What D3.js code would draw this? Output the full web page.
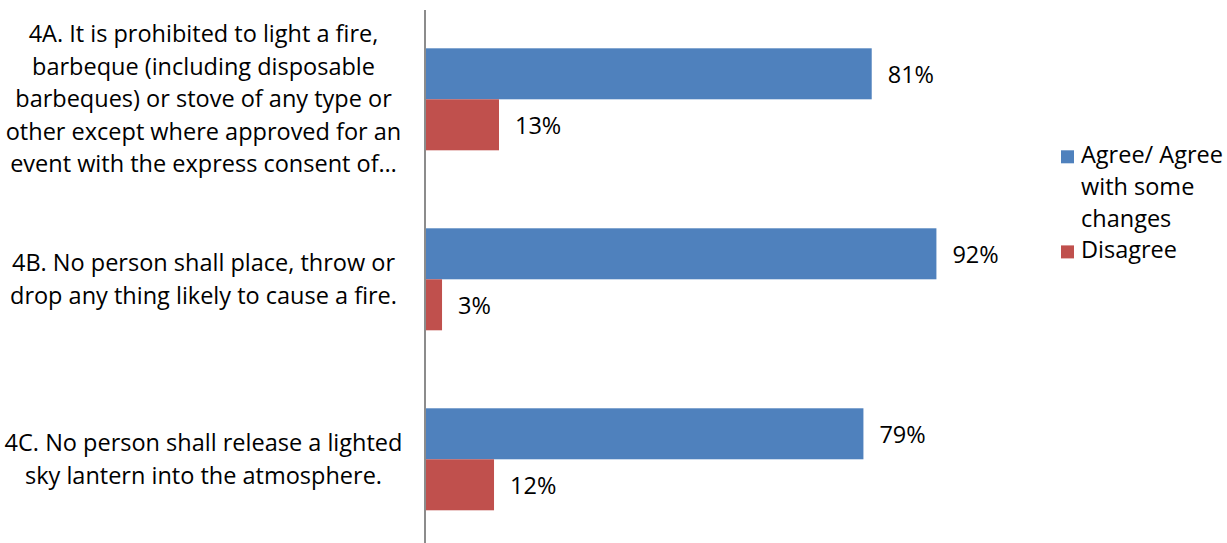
<!DOCTYPE html>
<html>
<head>
<meta charset="utf-8">
<script src="https://cdn.jsdelivr.net/npm/d3@7"></script>
<style>
  html, body { margin: 0; padding: 0; background: #fff; }
  svg { display: block; }
  text { font-family: "Open Sans", Lato, sans-serif; fill: #000; }
</style>
</head>
<body>
<svg id="chart" width="1227" height="543"></svg>
<script>
// ---- data ----
const categories = ["4A", "4B", "4C"];
const categoryLines = [
  ["4A. It is prohibited to light a fire,",
   "barbeque (including disposable",
   "barbeques) or stove of any type or",
   "other except where approved for an",
   "event with the express consent of…"],
  ["4B. No person shall place, throw or",
   "drop any thing likely to cause a fire."],
  ["4C. No person shall release a lighted",
   "sky lantern into the atmosphere."]
];
const seriesNames = ["Agree/ Agree with some changes", "Disagree"];
const legendLines = [["Agree/ Agree", "with some", "changes"], ["Disagree"]];
const agreeValues = [80.6, 92.3, 79.1];
const disagreeValues = [13.2, 2.9, 12.3];
const valueLabels = [["81%", "92%", "79%"], ["13%", "3%", "12%"]];
const colors = ["#4F81BD", "#C0504D"];

// ---- layout ----
const svg = d3.select("#chart");
const fontSize = 23.5;
const lineGap = 32.5;

const x = d3.scaleLinear().domain([0, 100]).range([426, 979]);
const y = d3.scaleBand().domain(categories).range([9.3, 549.3])
  .paddingInner(0.4333).paddingOuter(0.2167);
const ySeries = d3.scaleBand().domain(seriesNames).range([0, y.bandwidth()]);

const seriesValues = [agreeValues, disagreeValues];

// bars
seriesNames.forEach((s, si) => {
  const g = svg.append("g");
  g.selectAll("rect").data(categories).join("rect")
    .attr("x", x(0))
    .attr("y", c => y(c) + ySeries(s))
    .attr("width", (c, i) => x(seriesValues[si][i]) - x(0))
    .attr("height", ySeries.bandwidth())
    .attr("fill", colors[si]);
  g.selectAll("text").data(categories).join("text")
    .attr("x", (c, i) => x(seriesValues[si][i]) + 16)
    .attr("y", c => y(c) + ySeries(s) + ySeries.bandwidth() / 2 + 9)
    .style("font-size", fontSize + "px")
    .text((c, i) => valueLabels[si][i]);
});

// axis line (category axis, no ticks)
const yAxis = d3.axisLeft(y).tickSize(0).tickFormat("");
const axisG = svg.append("g").attr("transform", `translate(${x(0) - 0.5},0)`).call(yAxis);
axisG.select(".domain").remove();
svg.append("line")
  .attr("x1", x(0) - 1).attr("x2", x(0) - 1)
  .attr("y1", 10).attr("y2", 543)
  .attr("stroke", "#8c8c8c").attr("stroke-width", 2);

// category labels
const catG = svg.append("g");
categories.forEach((c, i) => {
  const lines = categoryLines[i];
  const cy = y(c) + y.bandwidth() / 2;
  const firstBaseline = cy - (lines.length - 1) * lineGap / 2 + 8;
  const t = catG.append("text")
    .attr("text-anchor", "middle")
    .style("font-size", fontSize + "px");
  lines.forEach((ln, k) => {
    t.append("tspan").attr("x", 203.5).attr("y", firstBaseline + k * lineGap).text(ln);
  });
});

// legend
const leg = svg.append("g");
const legBaselines = [[163.3, 195, 226.7], [258.4]];
seriesNames.forEach((s, si) => {
  const b0 = legBaselines[si][0];
  leg.append("rect")
    .attr("x", 1061).attr("y", b0 - 13).attr("width", 13).attr("height", 13)
    .attr("fill", colors[si]);
  const t = leg.append("text").style("font-size", fontSize + "px");
  legendLines[si].forEach((ln, k) => {
    t.append("tspan").attr("x", 1081).attr("y", legBaselines[si][k]).text(ln);
  });
});
</script>
</body>
</html>
